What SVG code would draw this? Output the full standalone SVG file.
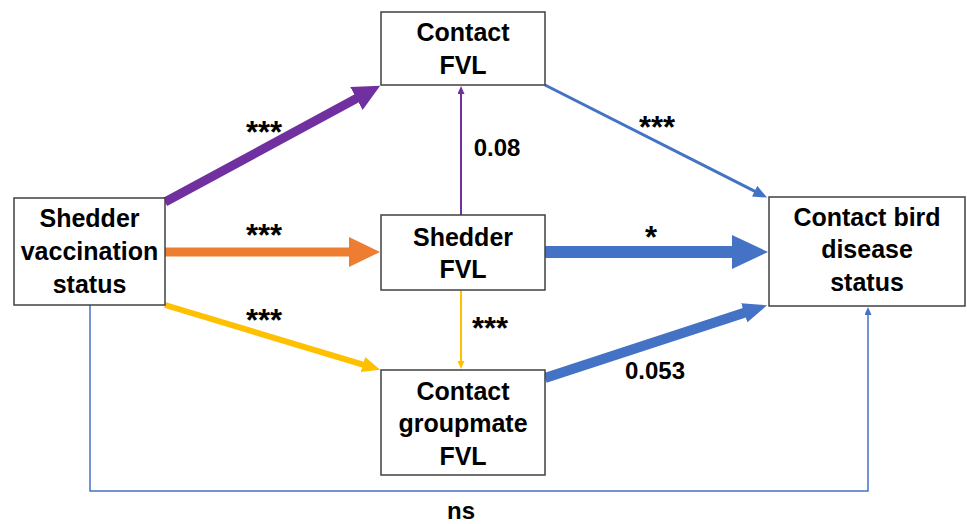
<svg xmlns="http://www.w3.org/2000/svg" width="967" height="524" viewBox="0 0 967 524">
<style>
.box{fill:#fff;stroke:#404040;stroke-width:1.5}
.nt{font-family:"Liberation Sans",Arial,sans-serif;font-weight:bold;font-size:25px;fill:#000;text-anchor:middle}
.lb{font-family:"Liberation Sans",Arial,sans-serif;font-weight:bold;font-size:24px;fill:#000;text-anchor:middle}
.st{font-family:"Liberation Sans",Arial,sans-serif;font-weight:bold;font-size:31px;fill:#000;text-anchor:middle}
.c{fill:none}
</style>
<defs>
<marker id="mP" markerUnits="userSpaceOnUse" viewBox="0 0 27 26" markerWidth="27" markerHeight="26" refX="1" refY="13" orient="auto"><path d="M0,0 L27,13 L0,26 z" fill="#7030A0"/></marker>
<marker id="mO" markerUnits="userSpaceOnUse" viewBox="0 0 31 30" markerWidth="31" markerHeight="30" refX="1" refY="15" orient="auto"><path d="M0,0 L31,15 L0,30 z" fill="#ED7D31"/></marker>
<marker id="mY" markerUnits="userSpaceOnUse" viewBox="0 0 18 16" markerWidth="18" markerHeight="16" refX="1" refY="8" orient="auto"><path d="M0,0 L18,8 L0,16 z" fill="#FFC000"/></marker>
<marker id="mBs" markerUnits="userSpaceOnUse" viewBox="0 0 14 12" markerWidth="14" markerHeight="12" refX="1" refY="6" orient="auto"><path d="M0,0 L14,6 L0,12 z" fill="#4472C4"/></marker>
<marker id="mBl" markerUnits="userSpaceOnUse" viewBox="0 0 36 34" markerWidth="36" markerHeight="34" refX="1" refY="17" orient="auto"><path d="M0,0 L36,17 L0,34 z" fill="#4472C4"/></marker>
<marker id="mBm" markerUnits="userSpaceOnUse" viewBox="0 0 24 20" markerWidth="24" markerHeight="20" refX="1" refY="10" orient="auto"><path d="M0,0 L24,10 L0,20 z" fill="#4472C4"/></marker>
<marker id="mPt" markerUnits="userSpaceOnUse" viewBox="0 0 8 7" markerWidth="8" markerHeight="7" refX="1" refY="3.5" orient="auto"><path d="M0,0 L8,3.5 L0,7 z" fill="#7030A0"/></marker>
<marker id="mYt" markerUnits="userSpaceOnUse" viewBox="0 0 8 7" markerWidth="8" markerHeight="7" refX="1" refY="3.5" orient="auto"><path d="M0,0 L8,3.5 L0,7 z" fill="#FFC000"/></marker>
<marker id="mBt" markerUnits="userSpaceOnUse" viewBox="0 0 8 7" markerWidth="8" markerHeight="7" refX="1" refY="3.5" orient="auto"><path d="M0,0 L8,3.5 L0,7 z" fill="#4472C4"/></marker>
</defs>
<rect width="967" height="524" fill="#fff"/>
<g id="connectors">
<line class="c" x1="165" y1="202" x2="357.3" y2="98" stroke="#7030A0" stroke-width="9" marker-end="url(#mP)"/>
<line class="c" x1="165" y1="252" x2="350" y2="252" stroke="#ED7D31" stroke-width="9" marker-end="url(#mO)"/>
<line class="c" x1="165" y1="305" x2="363.8" y2="364.8" stroke="#FFC000" stroke-width="6" marker-end="url(#mY)"/>
<line class="c" x1="545" y1="85" x2="755.5" y2="191.7" stroke="#4472C4" stroke-width="3" marker-end="url(#mBs)"/>
<line class="c" x1="545" y1="252" x2="733" y2="252" stroke="#4472C4" stroke-width="12" marker-end="url(#mBl)"/>
<line class="c" x1="545" y1="378" x2="745.2" y2="312.5" stroke="#4472C4" stroke-width="10" marker-end="url(#mBm)"/>
<line class="c" x1="461" y1="215" x2="461" y2="93" stroke="#7030A0" stroke-width="2" marker-end="url(#mPt)"/>
<line class="c" x1="461" y1="290" x2="461" y2="362" stroke="#FFC000" stroke-width="2" marker-end="url(#mYt)"/>
<polyline class="c" points="90,305 90,491 868,491 868,314" stroke="#4472C4" stroke-width="1.5" marker-end="url(#mBt)"/>
</g>
<g id="node-vacc">
<rect class="box" x="14" y="198" width="151" height="107"/>
<text class="nt" x="89.5" y="227">Shedder</text>
<text class="nt" x="89.5" y="260">vaccination</text>
<text class="nt" x="89.5" y="293">status</text>
</g>
<g id="node-contact-fvl">
<rect class="box" x="381" y="12" width="164" height="73"/>
<text class="nt" x="463" y="41">Contact</text>
<text class="nt" x="463" y="74">FVL</text>
</g>
<g id="node-shedder-fvl">
<rect class="box" x="381" y="215" width="164" height="75"/>
<text class="nt" x="463" y="246">Shedder</text>
<text class="nt" x="463" y="278">FVL</text>
</g>
<g id="node-groupmate-fvl">
<rect class="box" x="381" y="370" width="164" height="105"/>
<text class="nt" x="463" y="400">Contact</text>
<text class="nt" x="463" y="432">groupmate</text>
<text class="nt" x="463" y="465">FVL</text>
</g>
<g id="node-disease">
<rect class="box" x="769" y="197" width="196" height="109"/>
<text class="nt" x="867" y="226">Contact bird</text>
<text class="nt" x="867" y="258">disease</text>
<text class="nt" x="867" y="291">status</text>
</g>
<g id="labels">
<text class="st" x="264" y="142.5">***</text>
<text class="st" x="264" y="245.5">***</text>
<text class="st" x="264" y="330.5">***</text>
<text class="lb" x="497" y="156">0.08</text>
<text class="st" x="657" y="137.5">***</text>
<text class="st" x="651" y="247.5">*</text>
<text class="st" x="490" y="338.5">***</text>
<text class="lb" x="655" y="379">0.053</text>
<text class="lb" x="461" y="519">ns</text>
</g>
</svg>
